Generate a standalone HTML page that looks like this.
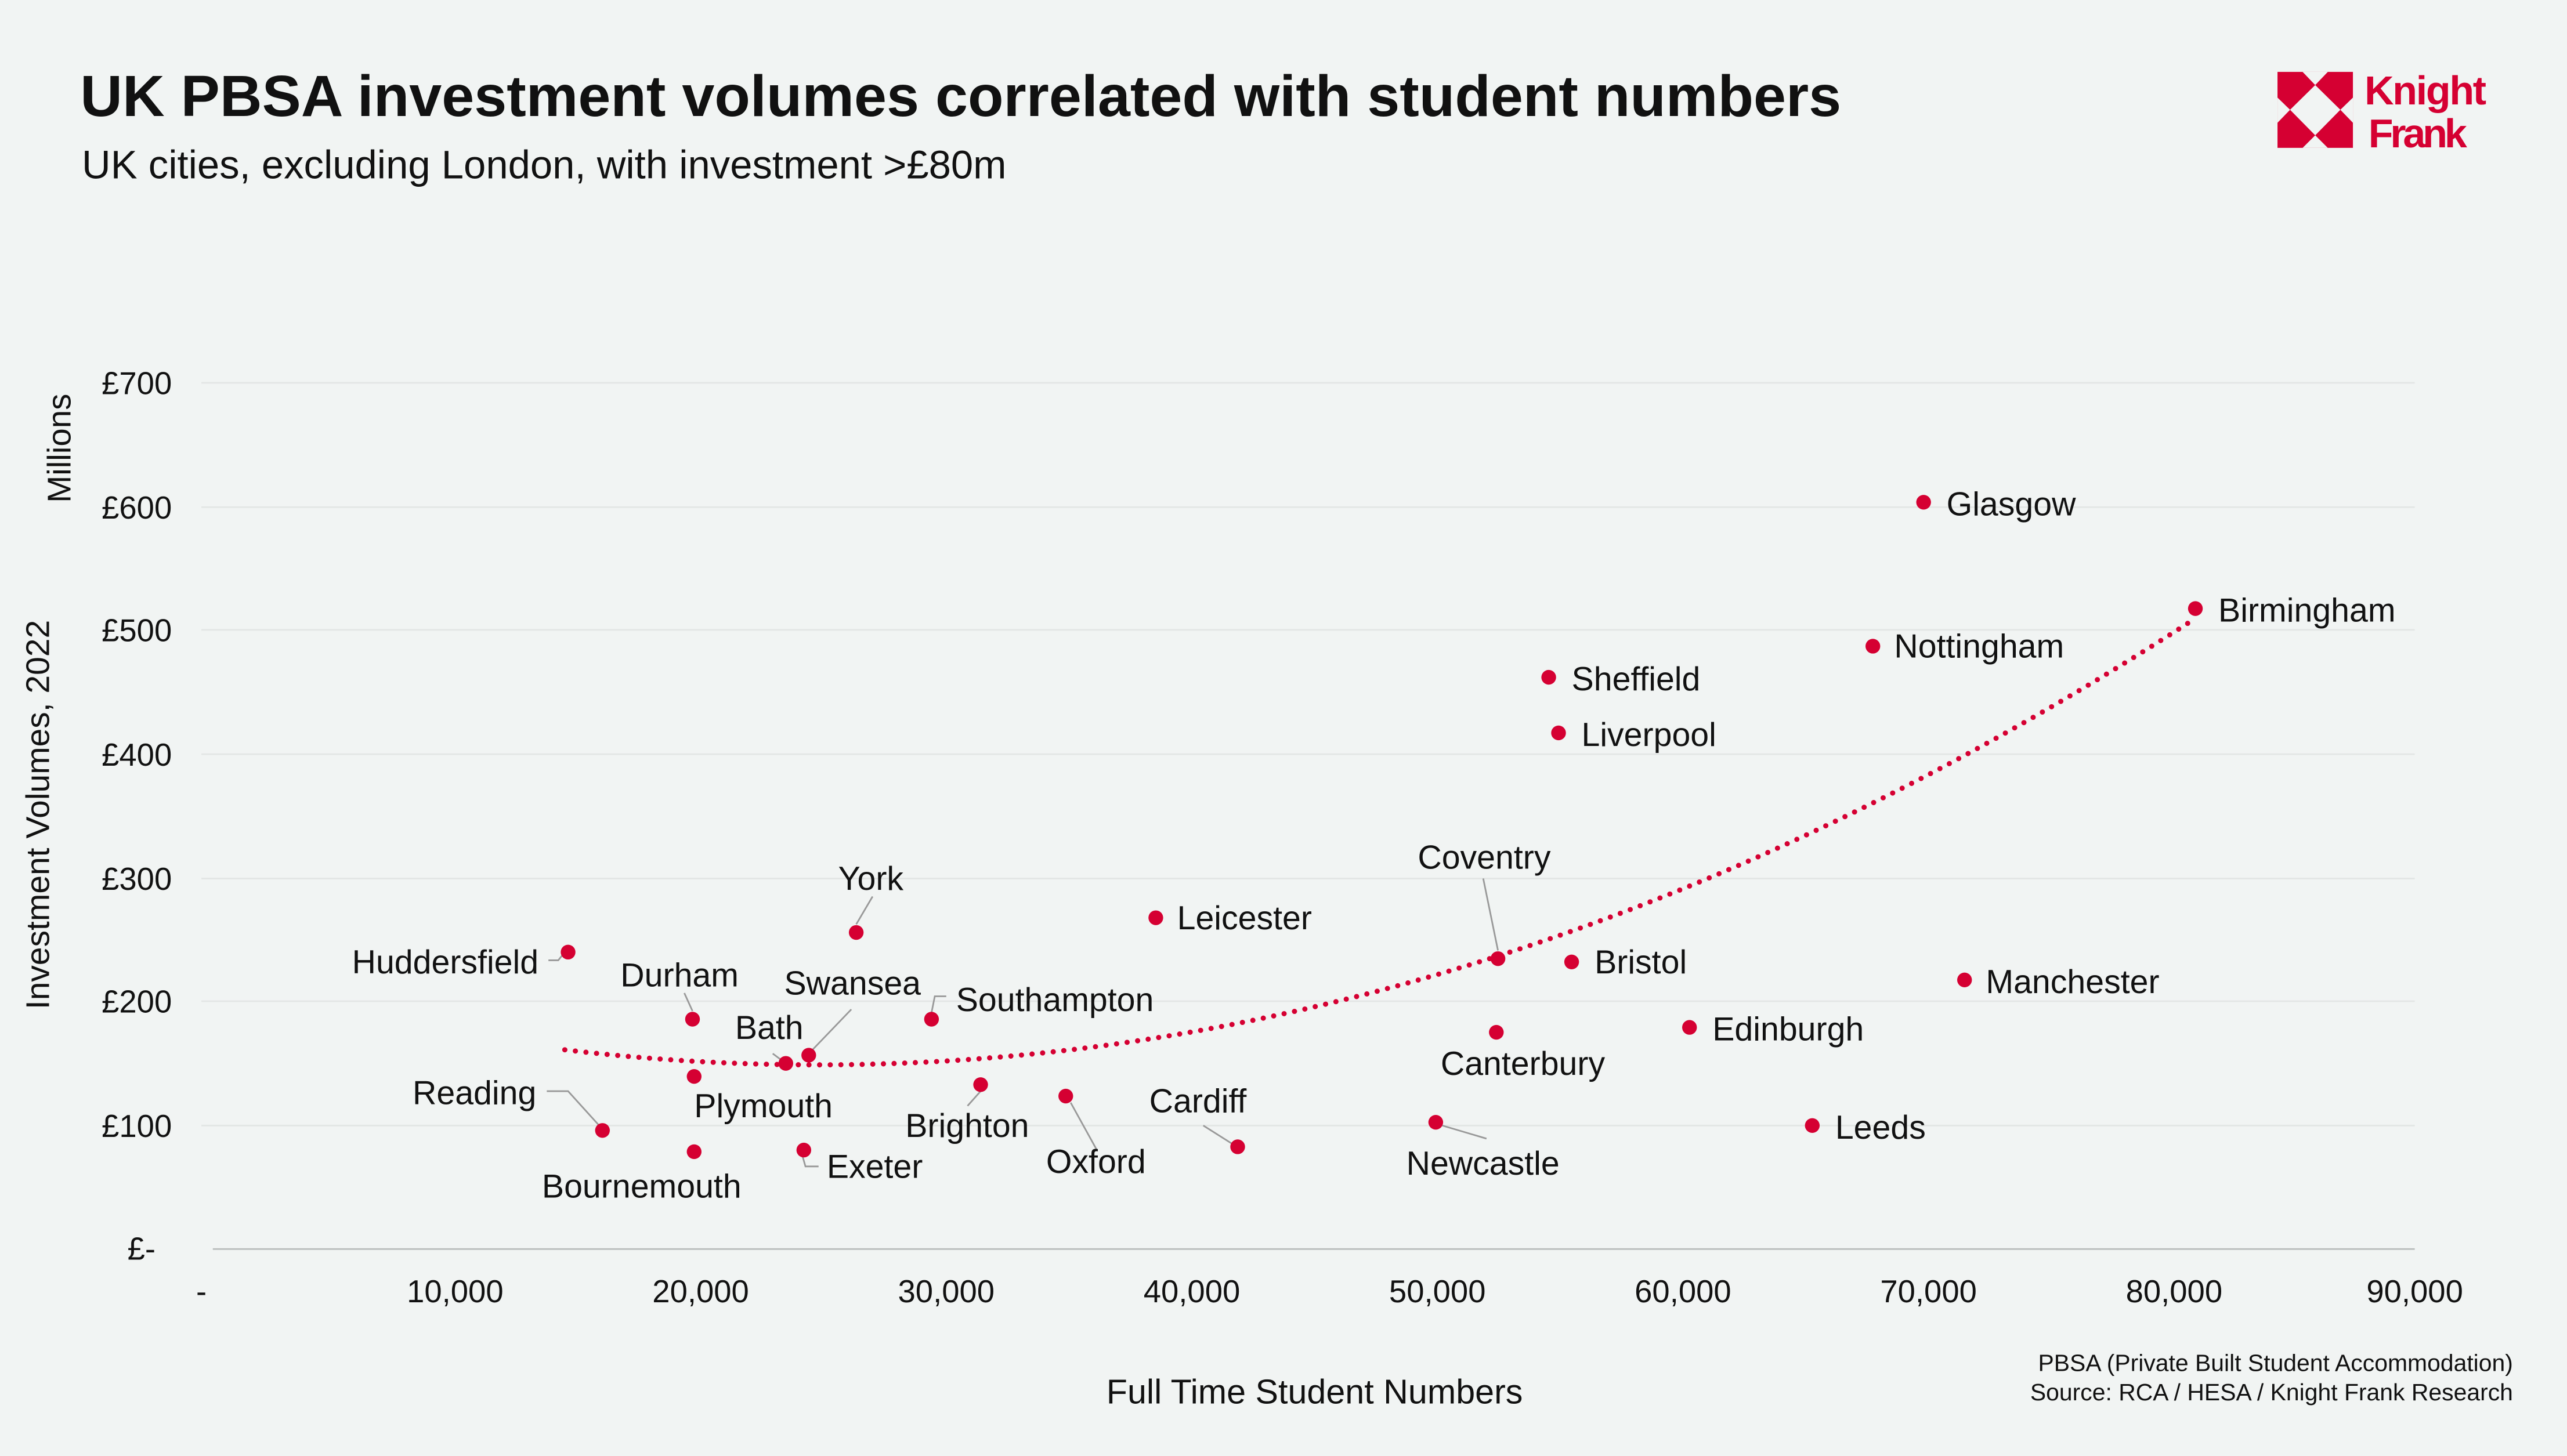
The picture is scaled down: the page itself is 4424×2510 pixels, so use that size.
<!DOCTYPE html>
<html><head><meta charset="utf-8"><style>
html,body{margin:0;padding:0;background:#f1f4f3;}
svg{display:block;}
text{font-family:"Liberation Sans",Arial,sans-serif;fill:#111;}
</style></head><body>
<svg width="4424" height="2510" viewBox="0 0 1568 890" preserveAspectRatio="none" xmlns="http://www.w3.org/2000/svg">
<rect width="1568" height="890" fill="#f1f4f3"/>
<text x="49" y="71" font-size="35.7" font-weight="bold">UK PBSA investment volumes correlated with student numbers</text>
<text x="50" y="109" font-size="24.4">UK cities, excluding London, with investment &gt;£80m</text>
<g transform="translate(1382.3,35.44) scale(0.11815)">
<rect x="75" y="72" width="390" height="393" fill="#d50032"/>
<g fill="#f1f4f3">
<polygon points="205,72 270,140 335,72"/>
<polygon points="205,465 270,400 335,465"/>
<polygon points="75,205 140,268 75,335"/>
<polygon points="465,205 400,268 465,335"/>
<polygon points="270,140 400,268 270,400 140,268"/>
</g>
<text x="525" y="240" font-size="210" font-weight="bold" textLength="630" style="fill:#d50032">Knight</text>
<text x="545" y="462" font-size="210" font-weight="bold" textLength="510" style="fill:#d50032">Frank</text>
</g>
<g stroke="#e3e6e5" stroke-width="1">
<line x1="123" x2="1475" y1="234" y2="234"/><line x1="123" x2="1475" y1="310" y2="310"/>
<line x1="123" x2="1475" y1="385" y2="385"/><line x1="123" x2="1475" y1="461" y2="461"/>
<line x1="123" x2="1475" y1="537" y2="537"/><line x1="123" x2="1475" y1="612" y2="612"/>
<line x1="123" x2="1475" y1="688" y2="688"/>
</g>
<line x1="130" x2="1475" y1="763.5" y2="763.5" stroke="#b8bcbb" stroke-width="1"/>
<g font-size="19.3" text-anchor="end">
<text x="105" y="241">£700</text><text x="105" y="317">£600</text><text x="105" y="392">£500</text>
<text x="105" y="468">£400</text><text x="105" y="544">£300</text><text x="105" y="619">£200</text>
<text x="105" y="695">£100</text><text x="95" y="770">£-</text>
</g>
<g font-size="19.3" text-anchor="middle">
<text x="123" y="796">-</text><text x="278" y="796">10,000</text><text x="428" y="796">20,000</text>
<text x="578" y="796">30,000</text><text x="728" y="796">40,000</text><text x="878" y="796">50,000</text>
<text x="1028" y="796">60,000</text><text x="1178" y="796">70,000</text><text x="1328" y="796">80,000</text>
<text x="1475" y="796">90,000</text>
</g>
<text x="803" y="858" font-size="21" text-anchor="middle">Full Time Student Numbers</text>
<text font-size="20.2" text-anchor="middle" transform="translate(30,498) rotate(-90)">Investment Volumes, 2022</text>
<text font-size="20" text-anchor="middle" transform="translate(43,274) rotate(-90)">Millions</text>
<text x="1535" y="838" font-size="14.5" text-anchor="end">PBSA (Private Built Student Accommodation)</text>
<text x="1535" y="856" font-size="14.5" text-anchor="end">Source: RCA / HESA / Knight Frank Research</text>
<path d="M345,641.7 Q843,701 1341,378" fill="none" stroke="#d50032" stroke-width="3.2" stroke-linecap="round" stroke-dasharray="0 6.5"/>
<g stroke="#999" stroke-width="1" fill="none">
<polyline points="533,548 523,565"/>
<polyline points="335,587 341,587 345,582"/>
<polyline points="418,607 423,618"/>
<polyline points="520,617 496,642"/>
<polyline points="472,644 480,650"/>
<polyline points="578,609 571,609 569,619"/>
<polyline points="334,667 347,667 366,688"/>
<polyline points="906,537 915,581"/>
<polyline points="591,676 599,667"/>
<polyline points="654,674 670,703"/>
<polyline points="735,688 754,700"/>
<polyline points="881,688 908,696"/>
<polyline points="490,706 492,713 500,713"/>
</g>
<g fill="#d50032">
<circle cx="1175" cy="307" r="4.5"/><circle cx="1341" cy="372" r="4.5"/><circle cx="1144" cy="395" r="4.5"/>
<circle cx="946" cy="414" r="4.5"/><circle cx="952" cy="448" r="4.5"/><circle cx="915" cy="586" r="4.5"/>
<circle cx="960" cy="588" r="4.5"/><circle cx="1200" cy="599" r="4.5"/><circle cx="1032" cy="628" r="4.5"/>
<circle cx="914" cy="631" r="4.5"/><circle cx="1107" cy="688" r="4.5"/><circle cx="877" cy="686" r="4.5"/>
<circle cx="756" cy="701" r="4.5"/><circle cx="706" cy="561" r="4.5"/><circle cx="523" cy="570" r="4.5"/>
<circle cx="347" cy="582" r="4.5"/><circle cx="423" cy="623" r="4.5"/><circle cx="494" cy="645" r="4.5"/>
<circle cx="480" cy="650" r="4.5"/><circle cx="569" cy="623" r="4.5"/><circle cx="424" cy="658" r="4.5"/>
<circle cx="599" cy="663" r="4.5"/><circle cx="651" cy="670" r="4.5"/><circle cx="368" cy="691" r="4.5"/>
<circle cx="424" cy="704" r="4.5"/><circle cx="491" cy="703" r="4.5"/>
</g>
<g font-size="20.3">
<text x="1189" y="315">Glasgow</text><text x="1355" y="380">Birmingham</text><text x="1157" y="402">Nottingham</text>
<text x="960" y="422">Sheffield</text><text x="966" y="456">Liverpool</text><text x="866" y="531">Coventry</text>
<text x="974" y="595">Bristol</text><text x="1213" y="607">Manchester</text><text x="1046" y="636">Edinburgh</text>
<text x="880" y="657">Canterbury</text><text x="1121" y="696">Leeds</text><text x="859" y="718">Newcastle</text>
<text x="702" y="680">Cardiff</text><text x="719" y="568">Leicester</text><text x="512" y="544">York</text>
<text x="215" y="595">Huddersfield</text><text x="379" y="603">Durham</text><text x="479" y="608">Swansea</text>
<text x="449" y="635">Bath</text><text x="584" y="618">Southampton</text><text x="424" y="683">Plymouth</text>
<text x="553" y="695">Brighton</text><text x="639" y="717">Oxford</text><text x="252" y="675">Reading</text>
<text x="331" y="732">Bournemouth</text><text x="505" y="720">Exeter</text>
</g>
</svg>
</body></html>
